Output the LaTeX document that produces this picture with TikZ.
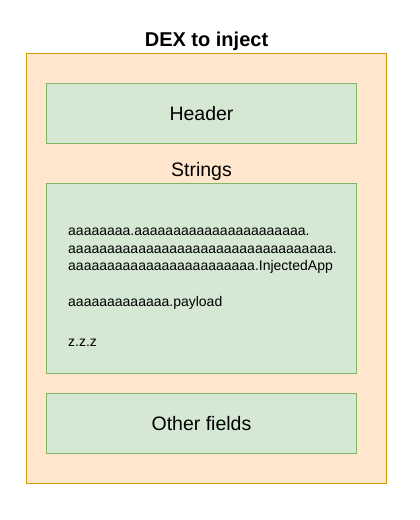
\documentclass[tikz,border=0pt]{standalone}
\usepackage{fontspec}
\setmainfont{Liberation Sans}
\definecolor{outerfill}{HTML}{FFE6CC}
\definecolor{outerdraw}{HTML}{D79B00}
\definecolor{innerfill}{HTML}{D5E8D4}
\definecolor{innerdraw}{HTML}{82B366}
\tikzset{
  outerbox/.style={draw=outerdraw, fill=outerfill, line width=1pt},
  innerbox/.style={draw=innerdraw, fill=innerfill, line width=1pt},
  biglabel/.style={inner sep=0pt, anchor=base, font=\fontsize{19.5}{23}\selectfont},
  titlelabel/.style={inner sep=0pt, anchor=base, font=\fontsize{20}{24}\selectfont\bfseries},
  strline/.style={inner sep=0pt, anchor=base west, font=\fontsize{14}{17}\selectfont}
}
\begin{document}
\begin{tikzpicture}[x=1pt,y=-1pt]
\useasboundingbox (0,0) rectangle (420,520);
\fill[white] (0,0) rectangle (420,520);
\draw[outerbox] (26.5,53.5) rectangle (386.5,483.5);
\node[titlelabel] (title) at (206.5,46) {DEX to inject};
\draw[innerbox] (46.5,83.5) rectangle (356.5,143.5);
\node[biglabel] (header) at (201.5,120) {Header};
\node[biglabel] (strings) at (201.5,176) {Strings};
\draw[innerbox] (46.5,183.5) rectangle (356.5,373.5);
\node[strline] (l1) at (68,235.6) {aaaaaaaa.aaaaaaaaaaaaaaaaaaaaaa.};
\node[strline] (l2) at (68,253.2) {aaaaaaaaaaaaaaaaaaaaaaaaaaaaaaaaaa.};
\node[strline] (l3) at (68,270.8) {aaaaaaaaaaaaaaaaaaaaaaaa.InjectedApp};
\node[strline] (l4) at (68,306.6) {aaaaaaaaaaaaa.payload};
\node[strline] (l5) at (68,346.6) {z.z.z};
\draw[innerbox] (46.5,393.5) rectangle (356.5,453.5);
\node[biglabel] (other) at (201.5,430) {Other fields};
\end{tikzpicture}
\end{document}
